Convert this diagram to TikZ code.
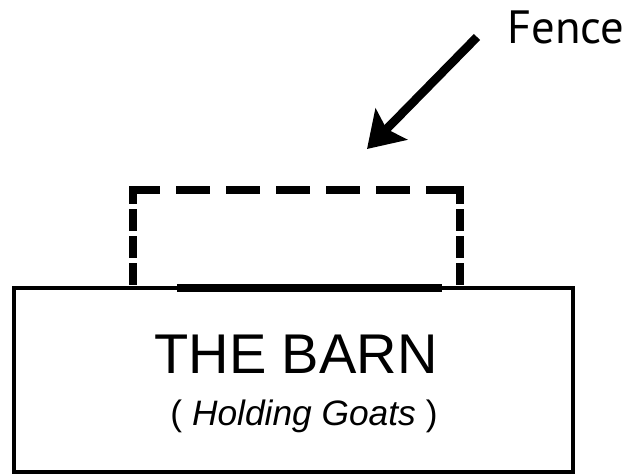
\documentclass[tikz,border=0pt]{standalone}
\usepackage{fontspec}
\setmainfont{Liberation Sans}
\newfontfamily\fencefont{PT Sans}
\usetikzlibrary{arrows.meta}
\begin{document}
\begin{tikzpicture}[x=0.75pt,y=-0.75pt,
  barnline/.style={line width=3pt},
  fenceline/.style={line width=6.5pt},
  gateline/.style={line width=6.5pt},
  pointer/.style={line width=6.5pt,-{Stealth[length=26pt,width=33pt,inset=5pt]}},
  lbl/.style={inner sep=0pt,anchor=base}]
\useasboundingbox (0,0) rectangle (626,475);
% barn
\draw[barnline] (14,288) rectangle (573,472);
\node[lbl] (title) at (296,373) {\fontsize{42pt}{42pt}\selectfont THE BARN};
\node[lbl] (sub) at (304,425) {\fontsize{26.5pt}{26.5pt}\selectfont ( \textit{Holding Goats} )};
% gate (solid thick part of barn wall)
\draw[gateline] (177,288) -- (442,288);
% fence
\draw[fenceline,dash pattern=on 25.5pt off 12pt,dash phase=2.25pt] (129,190) -- (464,190);
\draw[fenceline,dash pattern=on 16.5pt off 3.75pt,dash phase=3pt] (133,186) -- (133,288);
\draw[fenceline,dash pattern=on 16.5pt off 3.75pt,dash phase=3pt] (460,186) -- (460,288);
% label and pointer
\node[lbl,anchor=base west] (fence) at (507,43) {\fencefont\fontsize{35pt}{35pt}\selectfont Fence};
\coordinate (ptrstart) at (477,37);
\coordinate (ptrend) at (367,149);
\draw[pointer] (ptrstart) -- (ptrend);
\end{tikzpicture}
\end{document}
